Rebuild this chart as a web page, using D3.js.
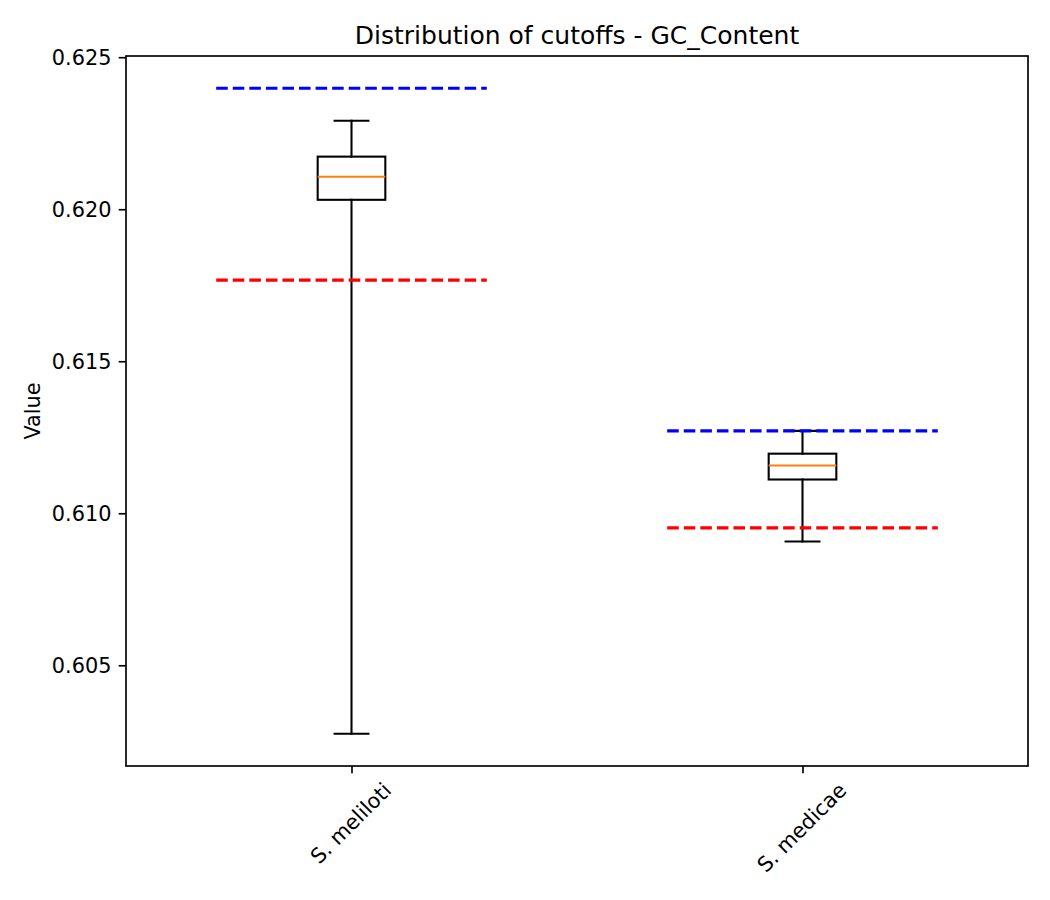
<!DOCTYPE html>
<html>
<head>
<meta charset="utf-8">
<script src="https://d3js.org/d3.v7.min.js"></script>
<style>
  html, body { margin: 0; padding: 0; background: #fff; }
  svg { display: block; font-family: "DejaVu Sans", sans-serif; }
</style>
</head>
<body>
<svg id="chart" width="1050" height="900"></svg>
<script>
// ---- data ----
const categories   = ["S. meliloti", "S. medicae"];
const whiskerLow   = [0.60275, 0.60907];
const q1           = [0.62031, 0.61111];
const medians      = [0.62107, 0.61157];
const q3           = [0.62173, 0.61196];
const whiskerHigh  = [0.62291, 0.61271];
const upperCutoff  = [0.62398, 0.61271];
const lowerCutoff  = [0.61767, 0.60952];
const yTicks       = [0.605, 0.610, 0.615, 0.620, 0.625];
const yDomain      = [0.601687, 0.62504];
const titleText    = "Distribution of cutoffs - GC_Content";
const yLabelText   = "Value";

// ---- layout ----
const W = 1050, H = 900;
const L = 126, R = 1028, T = 56, B = 766;
const px = pt => pt * 150 / 72;
const tickLen = px(3.5), tickPad = px(3.5);
const fs = px(10), titleFs = px(12);

const svg = d3.select("#chart");
svg.append("rect").attr("width", W).attr("height", H).attr("fill", "#fff");

const x = d3.scaleLinear().domain([0.5, categories.length + 0.5]).range([L, R]);
const y = d3.scaleLinear().domain(yDomain).range([B, T]);
const pos = categories.map((c, i) => i + 1);

const g = svg.append("g");

// boxes
const boxHalf = 0.075, capHalf = 0.0375;
const lw = px(1);
const boxes = g.selectAll("g.box").data(pos).enter().append("g").attr("class", "box");
boxes.append("line") // lower whisker
  .attr("x1", d => x(d)).attr("x2", d => x(d))
  .attr("y1", (d, i) => y(q1[i])).attr("y2", (d, i) => y(whiskerLow[i]))
  .attr("stroke", "#000").attr("stroke-width", lw).attr("stroke-linecap", "square");
boxes.append("line") // upper whisker
  .attr("x1", d => x(d)).attr("x2", d => x(d))
  .attr("y1", (d, i) => y(q3[i])).attr("y2", (d, i) => y(whiskerHigh[i]))
  .attr("stroke", "#000").attr("stroke-width", lw).attr("stroke-linecap", "square");
boxes.append("line") // lower cap
  .attr("x1", d => x(d - capHalf)).attr("x2", d => x(d + capHalf))
  .attr("y1", (d, i) => y(whiskerLow[i])).attr("y2", (d, i) => y(whiskerLow[i]))
  .attr("stroke", "#000").attr("stroke-width", lw).attr("stroke-linecap", "square");
boxes.append("line") // upper cap
  .attr("x1", d => x(d - capHalf)).attr("x2", d => x(d + capHalf))
  .attr("y1", (d, i) => y(whiskerHigh[i])).attr("y2", (d, i) => y(whiskerHigh[i]))
  .attr("stroke", "#000").attr("stroke-width", lw).attr("stroke-linecap", "square");
boxes.append("rect")
  .attr("x", d => x(d - boxHalf))
  .attr("width", d => x(d + boxHalf) - x(d - boxHalf))
  .attr("y", (d, i) => y(q3[i]))
  .attr("height", (d, i) => y(q1[i]) - y(q3[i]))
  .attr("fill", "none").attr("stroke", "#000").attr("stroke-width", lw);
boxes.append("line") // median
  .attr("x1", d => x(d - boxHalf)).attr("x2", d => x(d + boxHalf))
  .attr("y1", (d, i) => y(medians[i])).attr("y2", (d, i) => y(medians[i]))
  .attr("stroke", "#ff7f0e").attr("stroke-width", lw);

// cutoff lines
const dash = `${px(3.7 * 1.5)},${px(1.6 * 1.5)}`;
function hlines(vals, color) {
  g.selectAll(null).data(pos).enter().append("line")
    .attr("x1", d => x(d - 0.3)).attr("x2", d => x(d + 0.3))
    .attr("y1", (d, i) => y(vals[i])).attr("y2", (d, i) => y(vals[i]))
    .attr("stroke", color).attr("stroke-width", px(1.5))
    .attr("stroke-dasharray", dash);
}
hlines(upperCutoff, "#0000ff");
hlines(lowerCutoff, "#ff0000");

// y axis
const yAxis = d3.axisLeft(y).tickValues(yTicks).tickFormat(d3.format(".3f"))
  .tickSize(tickLen).tickPadding(tickPad);
const yg = svg.append("g").attr("transform", `translate(${L},0)`).call(yAxis);
yg.select(".domain").remove();
yg.selectAll(".tick line").attr("stroke", "#000").attr("stroke-width", px(0.8));
yg.selectAll(".tick text").attr("fill", "#000").attr("font-size", fs)
  .attr("font-family", "DejaVu Sans").attr("dy", "0.36em");

// x axis
const xAxis = d3.axisBottom(x).tickValues(pos).tickFormat((d, i) => categories[i])
  .tickSize(tickLen).tickPadding(tickPad);
const xg = svg.append("g").attr("transform", `translate(0,${B})`).call(xAxis);
xg.select(".domain").remove();
xg.selectAll(".tick line").attr("stroke", "#000").attr("stroke-width", px(0.8));
xg.selectAll(".tick text").each(function() {
  const t = d3.select(this);
  t.attr("fill", "#000").attr("font-size", fs).attr("font-family", "DejaVu Sans")
   .attr("dy", null).attr("y", null).attr("text-anchor", "middle");
  const w = this.getComputedTextLength();
  const h = fs * 0.996;
  const Hb = (w + h) * Math.SQRT1_2;
  const cy = tickLen + tickPad + Hb / 2;
  const off = fs * 0.262 * Math.SQRT1_2;
  t.attr("transform", `translate(${off},${cy + off}) rotate(-45)`);
});

// frame (spines)
svg.append("rect").attr("x", L).attr("y", T).attr("width", R - L).attr("height", B - T)
  .attr("fill", "none").attr("stroke", "#000").attr("stroke-width", px(0.8));

// title
svg.append("text").attr("x", (L + R) / 2).attr("y", T - px(6))
  .attr("text-anchor", "middle").attr("font-size", titleFs).attr("fill", "#000")
  .text(titleText);

// y label
svg.append("text").attr("transform", `translate(39.5,${(T + B) / 2}) rotate(-90)`)
  .attr("text-anchor", "middle").attr("font-size", fs).attr("fill", "#000")
  .text(yLabelText);
</script>
</body>
</html>
